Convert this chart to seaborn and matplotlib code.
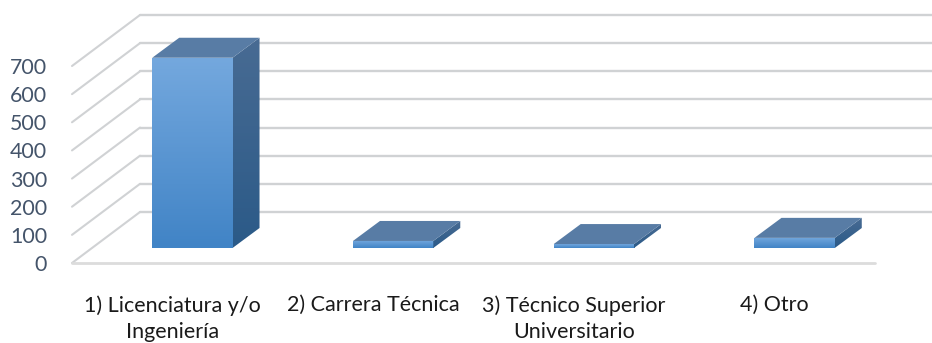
import numpy as np
import seaborn as sns
import matplotlib.pyplot as plt
from matplotlib.colors import LinearSegmentedColormap
from matplotlib.patches import Polygon

categories = ['1) Licenciatura y/o\nIngeniería', '2) Carrera Técnica',
              '3) Técnico Superior\nUniversitario', '4) Otro']
values = [676, 25, 14, 36]
y_ticks = [0, 100, 200, 300, 400, 500, 600, 700]

W, H = 932, 343
PX_X = 803 / 4      # pixels per category
PX_Y = 197 / 700    # pixels per unit

sns.set_theme(style='white')
plt.rcParams['font.family'] = ['Lato', 'DejaVu Sans']

fig = plt.figure(figsize=(W / 100, H / 100), dpi=100)


def plane(left, bottom):
    # one axes per depth plane of the fake 3d box
    ax = fig.add_axes([left / W, (H - bottom) / H, 803 / W, 197 / H])
    ax.set_xlim(-0.5, 3.5)
    ax.set_ylim(0, 700)
    ax.set_xticks([])
    ax.set_yticks([])
    ax.patch.set_alpha(0)
    sns.despine(ax=ax, left=True, bottom=True)
    return ax


ax_back = plane(140, 212)
ax_bar = plane(92, 248)
ax_front = plane(72, 263)
ax_back.set_zorder(1)
ax_front.set_zorder(2)
ax_bar.set_zorder(3)

# back wall + left wall
grid_c = '#d0d2d4'
wall_dx = 68 / PX_X
wall_dy = 51 / PX_Y
for v in y_ticks:
    ax_back.plot([-0.5, 3.5], [v, v], color=grid_c, lw=1.7, clip_on=False)
    ax_front.plot([-0.5, -0.5 + wall_dx], [v, v + wall_dy], color=grid_c, lw=1.5,
                  clip_on=False, solid_capstyle='round')
ax_front.plot([-0.5, 3.5], [0, 0], color='#dcdcdc', lw=2, clip_on=False,
              solid_capstyle='round')

ax_front.set_yticks(y_ticks)
ax_front.set_yticklabels(y_ticks, fontsize=15.4, color='#44546a')
ax_front.set_xticks(range(len(categories)))
ax_front.set_xticklabels(categories, fontsize=15.5, color='#1a1a1a', linespacing=1.38)
ax_front.tick_params(axis='y', length=0, pad=18)
ax_front.tick_params(axis='x', length=0, pad=23)

# bars, front faces first
sns.barplot(x=list(range(len(values))), y=values, ax=ax_bar, width=0.4,
            native_scale=True, color='#5096d8', saturation=1)
ax_bar.set_xticks([])
ax_bar.set_yticks([])
ax_bar.set_xlabel('')
ax_bar.set_ylabel('')

front_cm = LinearSegmentedColormap.from_list('front', ['#74a8de', '#4184c6'])
side_cm = LinearSegmentedColormap.from_list('side', ['#486b93', '#2b5a88'])
grad = np.linspace(0, 1, 64).reshape(-1, 1)
depth_x = 27 / PX_X
depth_y = 20 / PX_Y

for bar in list(ax_bar.patches):
    x0, w, h = bar.get_x(), bar.get_width(), bar.get_height()
    x1 = x0 + w
    im = ax_bar.imshow(grad, cmap=front_cm, aspect='auto', extent=(x0, x1, 0, h), zorder=3)
    im.set_clip_path(bar)
    bar.set_alpha(0)

    side = Polygon([(x1, 0), (x1 + depth_x, depth_y), (x1 + depth_x, h + depth_y), (x1, h)],
                   closed=True, facecolor='none', edgecolor='none', zorder=3, clip_on=False)
    ax_bar.add_patch(side)
    im2 = ax_bar.imshow(grad, cmap=side_cm, aspect='auto',
                        extent=(x1, x1 + depth_x, 0, h + depth_y), zorder=3)
    im2.set_clip_path(side)
    im2.set_clip_box(fig.bbox)

    ax_bar.add_patch(Polygon([(x0, h), (x1, h), (x1 + depth_x, h + depth_y), (x0 + depth_x, h + depth_y)],
                             closed=True, facecolor='#587ca5', edgecolor='none', zorder=3,
                             clip_on=False))

ax_bar.set_xlim(-0.5, 3.5)
ax_bar.set_ylim(0, 700)

fig.savefig('out.png', dpi=100)
